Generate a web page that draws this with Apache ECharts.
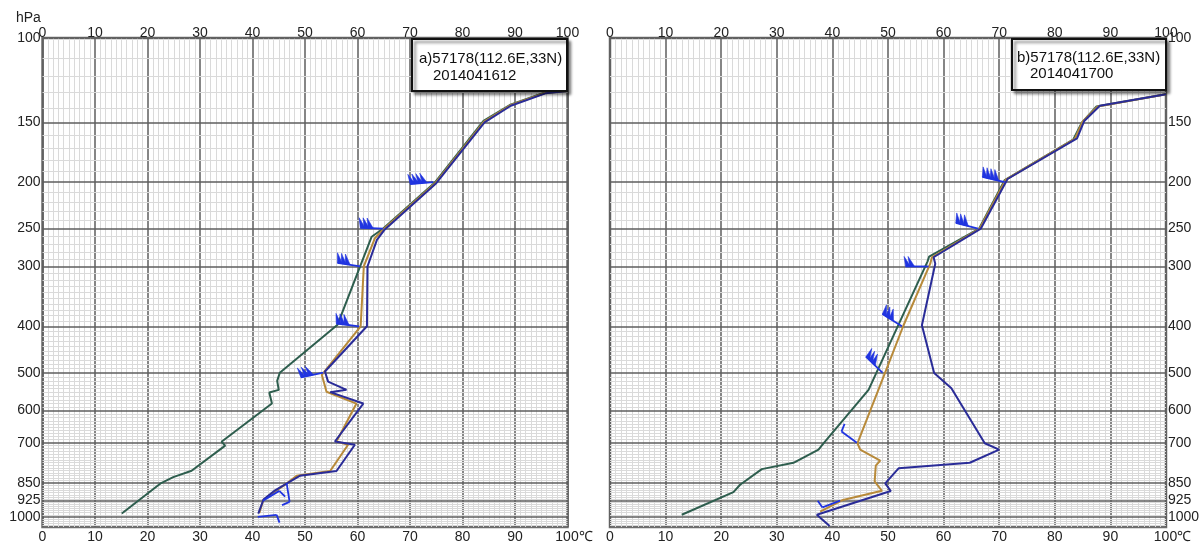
<!DOCTYPE html>
<html>
<head>
<meta charset="utf-8">
<script src="https://cdn.jsdelivr.net/npm/echarts@6/dist/echarts.min.js"></script>
<style>
html,body{margin:0;padding:0;background:#fff;}
#main{width:1199px;height:544px;}
</style>
</head>
<body>
<div id="main"></div>
<script>
// 气压层 (刻度)
var pLevels = [100, 150, 200, 250, 300, 400, 500, 600, 700, 850, 925, 1000];

// a) 2014041612
var aGreenX = [100, 95.7, 89.0, 84.0, 74.8, 64.9, 62.7, 60.5, 56.2, 45.2, 44.7, 45.0, 43.2, 43.7, 34.1, 34.8, 28.4, 24.9, 22.6, 15.1];
var aGreenP = [129, 130, 138, 149, 200, 250, 260, 300, 397, 500, 520, 543, 550, 580, 697, 710, 801, 826, 850, 984];
var aOrangeX = [100, 95.7, 89.1, 84.1, 74.9, 65.0, 63.3, 61.2, 60.6, 53.2, 54.1, 59.8, 56.0, 58.2, 54.8, 48.4, 46.6, 42.1, 41.3];
var aOrangeP = [129, 130.3, 138.2, 149.5, 200.5, 250.5, 262, 300, 400, 505, 548, 580, 696, 707, 802, 821, 850, 920, 982];
var aBlueX = [100, 95.8, 89.2, 84.2, 75.0, 65.2, 63.7, 61.9, 61.8, 53.8, 54.4, 57.9, 54.8, 61.1, 55.7, 59.5, 56.0, 49.0, 46.8, 44.3, 42.1, 41.1];
var aBlueP = [129, 130.5, 138.5, 150, 201, 251, 264, 300, 400, 497, 522, 543, 549, 580, 696, 707, 802, 821, 848, 880, 920, 985];
var aBarbP = [200, 250, 300, 400, 500, 850, 925, 1000];
var aBarbX = [74.4, 64.9, 60.5, 60.3, 53.5, 46.5, 42.0, 41.0];
var aBarbDir = [265, 272, 279, 277, 258, 171, 59, 84];
var aBarbSpd = [80, 60, 60, 60, 60, 4, 4, 4];

// b) 2014041700
var bGreenX = [100, 87.5, 84.9, 83.3, 71.0, 66.4, 57.4, 57.1, 46.5, 38.4, 37.5, 33.0, 27.3, 23.4, 22.2, 12.9];
var bGreenP = [131, 139, 150, 163, 198, 250, 286, 293, 543, 702, 724, 771, 795, 857, 888, 990];
var bOrangeX = [100, 87.7, 85.0, 83.6, 71.2, 66.5, 57.9, 57.6, 52.8, 49.5, 44.5, 45.0, 48.6, 47.8, 47.6, 48.9, 41.9, 37.8];
var bOrangeP = [131, 139, 149.5, 162.5, 197.5, 250, 287, 296, 398, 499, 702, 724, 763, 782, 843, 882, 922, 975];
var bBlueX = [100, 88.1, 85.3, 84.0, 71.5, 66.7, 58.2, 58.5, 56.1, 58.3, 61.4, 67.4, 70.0, 64.7, 51.9, 49.5, 50.5, 37.2, 39.5];
var bBlueP = [131, 138.5, 149, 162, 197, 250, 287, 296, 398, 501, 539, 702, 724, 771, 792, 851, 883, 990, 1045];
var bBarbP = [200, 250, 300, 400, 500, 700, 925];
var bBarbX = [71.0, 66.2, 57.3, 52.5, 49.0, 44.4, 41.4];
var bBarbDir = [283, 284, 270, 302, 314, 306, 249];
var bBarbSpd = [80, 60, 40, 60, 60, 4, 4];

var FONT = 'Liberation Sans, Arial, sans-serif';
var cGreen = '#2e5e4e', cOrange = '#b88a3a', cBlue = '#2a2c98', cBarb = '#2034e0';

function pairs(xs, ps) {
  return xs.map(function (x, i) { return [x, ps[i]]; });
}

// 细网格线 每10hPa
var minorLines = [];
for (var p = 110; p <= 1040; p += 10) {
  if (pLevels.indexOf(p) < 0) minorLines.push({ yAxis: p });
}
var majorLines = pLevels.map(function (v) { return { yAxis: v }; });

function gridSeries(gi, side) {
  var list = [];
  list.push({
    type: 'line', xAxisIndex: gi * 2, yAxisIndex: gi, data: [], silent: true,
    markLine: {
      silent: true, symbol: 'none', z: 1, animation: false,
      lineStyle: { color: '#dadada', width: 1, type: 'solid' },
      label: { show: false },
      data: minorLines
    }
  });
  side.forEach(function (pos, k) {
    list.push({
      type: 'line', xAxisIndex: gi * 2, yAxisIndex: gi, data: [], silent: true,
      markLine: {
        silent: true, symbol: 'none', z: 1, animation: false,
        lineStyle: { color: '#5e5e5e', width: 1.5, type: 'solid', opacity: k === 0 ? 1 : 0 },
        label: {
          show: true, position: pos, distance: 2, color: '#222', fontSize: 14, fontFamily: FONT,
          formatter: function (p) { return p.value; }
        },
        data: majorLines
      }
    });
  });
  return list;
}

function curve(gi, xs, ps, color) {
  return {
    type: 'line', xAxisIndex: gi * 2, yAxisIndex: gi, z: 3,
    data: pairs(xs, ps), symbol: 'none', silent: true, animation: false,
    lineStyle: { color: color, width: 2 }
  };
}

// 风羽: 三角旗=20, 长羽=4
function barbs(gi, P, X, D, S) {
  return {
    type: 'custom', xAxisIndex: gi * 2, yAxisIndex: gi, z: 4, silent: true, animation: false,
    data: X.map(function (x, i) { return [x, P[i], D[i], S[i]]; }),
    renderItem: function (params, api) {
      var pt = api.coord([api.value(0), api.value(1)]);
      var th = api.value(2) * Math.PI / 180;
      var rest = api.value(3);
      var dx = Math.sin(th), dy = -Math.cos(th);
      var nx = -dy, ny = dx;
      var L = rest >= 20 ? 23 : 19;
      var tip = [pt[0] + dx * L, pt[1] + dy * L];
      var kids = [{
        type: 'line', shape: { x1: pt[0], y1: pt[1], x2: tip[0], y2: tip[1] },
        style: { stroke: cBarb, lineWidth: 1.8 }
      }];
      var pos = 0;
      while (rest >= 20) {
        var s = [tip[0] - dx * pos, tip[1] - dy * pos];
        kids.push({
          type: 'polygon',
          shape: { points: [s, [s[0] + nx * 10 + dx * 1.5, s[1] + ny * 10 + dy * 1.5], [s[0] - dx * 5, s[1] - dy * 5]] },
          style: { fill: cBarb, stroke: cBarb, lineWidth: 0.6 }
        });
        pos += 4; rest -= 20;
      }
      while (rest >= 4) {
        var s2 = [tip[0] - dx * pos, tip[1] - dy * pos];
        kids.push({
          type: 'line', shape: { x1: s2[0], y1: s2[1], x2: s2[0] + nx * 8 + dx * 2, y2: s2[1] + ny * 8 + dy * 2 },
          style: { stroke: cBarb, lineWidth: 1.8 }
        });
        pos += 3; rest -= 4;
      }
      return { type: 'group', children: kids };
    }
  };
}

function xAxes(gi) {
  var bottom = {
    type: 'value', gridIndex: gi, min: 0, max: 100, interval: 10, position: 'bottom',
    axisLine: { show: false }, axisTick: { show: false },
    axisLabel: {
      margin: 3, color: '#222', fontSize: 14, fontFamily: FONT,
      formatter: function (v) { return v === 100 ? '{u|100℃}' : v; },
      rich: { u: { padding: [0, 0, 0, 13], fontSize: 14, color: '#222', fontFamily: FONT } }
    },
    splitLine: { show: true, lineStyle: { color: '#5e5e5e', width: 1.5 } },
    minorTick: { show: false, splitNumber: 10 },
    minorSplitLine: { show: true, lineStyle: { color: '#dadada', width: 1 } }
  };
  var top = {
    type: 'value', gridIndex: gi, min: 0, max: 100, interval: 10, position: 'top',
    axisLine: { show: false }, axisTick: { show: false }, splitLine: { show: false },
    axisLabel: { margin: -2, color: '#222', fontSize: 14, fontFamily: FONT }
  };
  return [bottom, top];
}

function yAxis(gi) {
  return {
    type: 'log', gridIndex: gi, min: 100, max: 1050, inverse: true,
    axisLine: { show: false }, axisTick: { show: false },
    axisLabel: { show: false }, splitLine: { show: false }
  };
}

function legendBox(x, y, w, h, line1, line2, tx1, tx2, ty1, ty2) {
  return {
    type: 'group', z: 100,
    children: [
      {
        type: 'rect', z: 100, shape: { x: x, y: y, width: w, height: h },
        style: { fill: '#fff', stroke: '#111', lineWidth: 2, shadowBlur: 3, shadowOffsetX: 3, shadowOffsetY: 3, shadowColor: 'rgba(0,0,0,0.45)' }
      },
      { type: 'text', z: 101, x: tx1, y: ty1, style: { text: line1, font: '15px ' + FONT, fill: '#111', verticalAlign: 'middle' } },
      { type: 'text', z: 101, x: tx2, y: ty2, style: { text: line2, font: '15px ' + FONT, fill: '#111', verticalAlign: 'middle' } }
    ]
  };
}

var myChart = echarts.init(document.getElementById('main'));
myChart.setOption({
  animation: false,
  backgroundColor: '#fff',
  grid: [
    { left: 42.5, top: 38, width: 525, height: 491, show: true, borderColor: '#6e6e6e', borderWidth: 2.5, backgroundColor: 'transparent' },
    { left: 610, top: 38, width: 556, height: 491, show: true, borderColor: '#6e6e6e', borderWidth: 2.5, backgroundColor: 'transparent' }
  ],
  xAxis: xAxes(0).concat(xAxes(1)),
  yAxis: [yAxis(0), yAxis(1)],
  series: [].concat(
    gridSeries(0, ['start', 'end']),
    gridSeries(1, ['end']),
    [
      curve(0, aGreenX, aGreenP, cGreen),
      curve(0, aOrangeX, aOrangeP, cOrange),
      curve(0, aBlueX, aBlueP, cBlue),
      barbs(0, aBarbP, aBarbX, aBarbDir, aBarbSpd),
      curve(1, bGreenX, bGreenP, cGreen),
      curve(1, bOrangeX, bOrangeP, cOrange),
      curve(1, bBlueX, bBlueP, cBlue),
      barbs(1, bBarbP, bBarbX, bBarbDir, bBarbSpd)
    ]
  ),
  graphic: [
    { type: 'text', left: 16, top: 11, z: 100, style: { text: 'hPa', font: '14px ' + FONT, fill: '#222' } },
    legendBox(412, 39, 155, 52, 'a)57178(112.6E,33N)', '2014041612', 419, 433, 59, 76),
    legendBox(1012, 39, 154, 51, 'b)57178(112.6E,33N)', '2014041700', 1017, 1030, 58, 74)
  ]
});
</script>
</body>
</html>
